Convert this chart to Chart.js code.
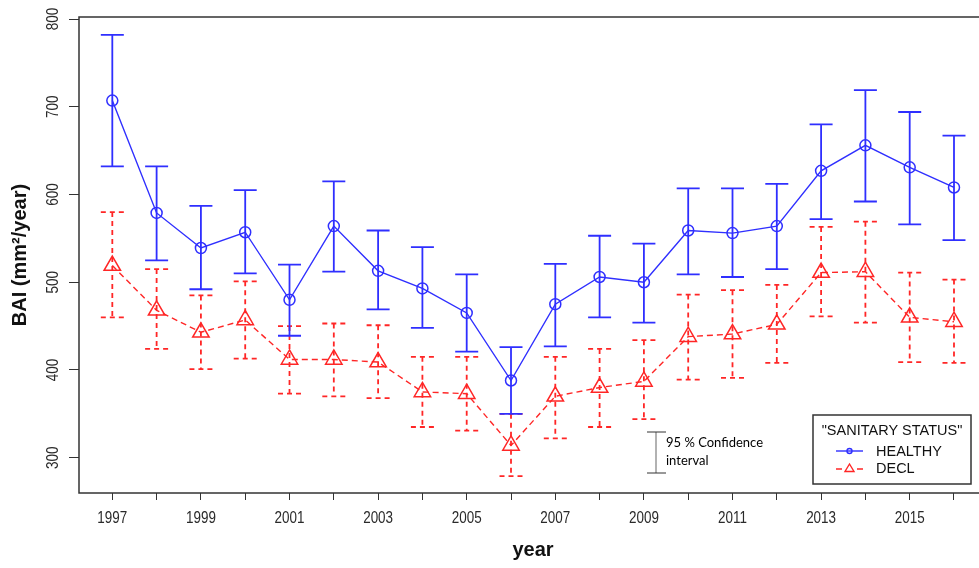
<!DOCTYPE html>
<html>
<head>
<meta charset="utf-8">
<script src="https://cdn.jsdelivr.net/npm/chart.js@4"></script>
<style>
  html, body { margin: 0; padding: 0; background: #fff; overflow: hidden; }
  #wrap { width: 1000px; height: 568px; }
</style>
</head>
<body>
<div id="wrap"><canvas id="bai" width="1000" height="568"></canvas></div>
<script>
const years = [1997, 1998, 1999, 2000, 2001, 2002, 2003, 2004, 2005, 2006,
               2007, 2008, 2009, 2010, 2011, 2012, 2013, 2014, 2015, 2016];

const healthy     = [707, 579, 539, 557, 480, 564, 513, 493, 465, 388, 475, 506, 500, 559, 556, 564, 627, 656, 631, 608];
const healthyHigh = [782, 632, 587, 605, 520, 615, 559, 540, 509, 426, 521, 553, 544, 607, 607, 612, 680, 719, 694, 667];
const healthyLow  = [632, 525, 492, 510, 439, 512, 469, 448, 421, 350, 427, 460, 454, 509, 506, 515, 572, 592, 566, 548];

const decl     = [519, 468, 443, 457, 412, 412, 409, 375, 373, 314, 370, 380, 387, 438, 441, 452, 511, 512, 460, 455];
const declHigh = [580, 515, 485, 501, 450, 453, 451, 415, 415, 350, 415, 424, 434, 486, 491, 497, 563, 569, 511, 503];
const declLow  = [460, 424, 401, 413, 373, 370, 368, 335, 331, 279, 322, 335, 344, 389, 391, 408, 461, 454, 409, 408];

const yTicks = [300, 400, 500, 600, 700, 800];
const xLabels = years.filter(v => v % 2 === 1);

const BLUE = '#2f2fff';
const RED = '#ff2626';
const mainFont = "'Liberation Sans', Arial, sans-serif";

// whiskers with caps, drawn under the lines and markers
function whisker(ctx, x, yHi, yLo, color, dash) {
  ctx.save();
  ctx.strokeStyle = color;
  ctx.lineWidth = 1.8;
  ctx.setLineDash(dash);
  ctx.beginPath();
  ctx.moveTo(x, yHi); ctx.lineTo(x, yLo);
  ctx.moveTo(x - 11.5, yHi); ctx.lineTo(x + 11.5, yHi);
  ctx.moveTo(x - 11.5, yLo); ctx.lineTo(x + 11.5, yLo);
  ctx.stroke();
  ctx.restore();
}

// narrow tick text (R device look): squeeze along the text direction
function squeezedText(ctx, txt, x, y, angle) {
  ctx.save();
  ctx.translate(x, y);
  ctx.rotate(angle);
  ctx.scale(0.84, 1);
  ctx.fillText(txt, 0, 0);
  ctx.restore();
}

const decorations = {
  id: 'decorations',
  beforeDatasetsDraw(chart) {
    const {ctx, scales: {x, y}} = chart;
    years.forEach((yr, i) => {
      const px = x.getPixelForValue(yr);
      whisker(ctx, px, y.getPixelForValue(declHigh[i]), y.getPixelForValue(declLow[i]), RED, [5, 4]);
    });
    years.forEach((yr, i) => {
      const px = x.getPixelForValue(yr);
      whisker(ctx, px, y.getPixelForValue(healthyHigh[i]), y.getPixelForValue(healthyLow[i]), BLUE, []);
    });
  },
  afterDraw(chart) {
    const {ctx, chartArea: a, scales: {x, y}} = chart;
    ctx.save();

    // plot box
    ctx.strokeStyle = '#333';
    ctx.lineWidth = 1.5;
    ctx.strokeRect(a.left, a.top, a.right - a.left, a.bottom - a.top);

    // tick labels
    ctx.fillStyle = '#2a2a2a';
    ctx.font = '16px ' + mainFont;
    ctx.textAlign = 'center';
    ctx.textBaseline = 'middle';
    yTicks.forEach(v => squeezedText(ctx, String(v), 54, y.getPixelForValue(v), -Math.PI / 2));
    xLabels.forEach(v => squeezedText(ctx, String(v), x.getPixelForValue(v), 519, 0));

    // confidence interval key
    ctx.strokeStyle = '#999';
    ctx.lineWidth = 1.5;
    ctx.beginPath();
    ctx.moveTo(656, 432); ctx.lineTo(656, 473);
    ctx.stroke();
    ctx.strokeStyle = '#333';
    ctx.lineWidth = 1;
    ctx.beginPath();
    ctx.moveTo(647, 432); ctx.lineTo(666, 432);
    ctx.moveTo(647, 473); ctx.lineTo(666, 473);
    ctx.stroke();
    ctx.fillStyle = '#000';
    ctx.font = '13px Lato, sans-serif';
    ctx.textAlign = 'left';
    ctx.fillText('95 % Confidence', 666, 443);
    ctx.fillText('interval', 666, 461);

    // legend
    ctx.fillStyle = '#fff';
    ctx.fillRect(813, 415, 158, 69);
    ctx.strokeStyle = '#333';
    ctx.lineWidth = 1.5;
    ctx.strokeRect(813, 415, 158, 69);
    ctx.fillStyle = '#111';
    ctx.font = '14.5px ' + mainFont;
    ctx.textAlign = 'center';
    ctx.fillText('"SANITARY STATUS"', 892, 431);
    ctx.textAlign = 'left';
    ctx.fillText('HEALTHY', 876, 452);
    ctx.fillText('DECL', 876, 469);

    ctx.lineWidth = 1.4;
    ctx.strokeStyle = BLUE;
    ctx.beginPath();
    ctx.moveTo(836, 451); ctx.lineTo(863, 451);
    ctx.stroke();
    ctx.beginPath();
    ctx.arc(849.5, 451, 2.5, 0, Math.PI * 2);
    ctx.stroke();

    ctx.strokeStyle = RED;
    ctx.beginPath();
    ctx.moveTo(836, 469); ctx.lineTo(842, 469);
    ctx.moveTo(857, 469); ctx.lineTo(863, 469);
    ctx.stroke();
    ctx.beginPath();
    ctx.moveTo(849.5, 464); ctx.lineTo(854, 471.5); ctx.lineTo(845, 471.5);
    ctx.closePath();
    ctx.stroke();

    ctx.restore();
  }
};

new Chart(document.getElementById('bai'), {
  type: 'line',
  data: {
    datasets: [
      {
        label: 'HEALTHY',
        data: years.map((yr, i) => ({x: yr, y: healthy[i]})),
        borderColor: BLUE,
        borderWidth: 1.4,
        pointStyle: 'circle',
        pointRadius: 5.5,
        pointBorderWidth: 1.5,
        pointBorderColor: BLUE,
        pointBackgroundColor: 'rgba(0,0,0,0)',
        tension: 0
      },
      {
        label: 'DECL',
        data: years.map((yr, i) => ({x: yr, y: decl[i]})),
        borderColor: RED,
        borderWidth: 1.4,
        borderDash: [6, 4],
        pointStyle: 'triangle',
        pointRadius: 9.5,
        pointBorderWidth: 1.5,
        pointBorderColor: RED,
        pointBackgroundColor: 'rgba(0,0,0,0)',
        tension: 0
      }
    ]
  },
  options: {
    responsive: false,
    animation: false,
    layout: { padding: { top: 17, right: 13, left: 0, bottom: 0 } },
    plugins: {
      legend: { display: false },
      tooltip: { enabled: false }
    },
    scales: {
      x: {
        type: 'linear',
        min: 1996.248,
        max: 2016.745,
        afterBuildTicks: s => { s.ticks = years.map(v => ({value: v})); },
        afterFit: s => { s.height = 75; },
        ticks: { autoSkip: false, maxRotation: 0, callback: () => '' },
        grid: { drawOnChartArea: false, drawTicks: true, tickLength: 7, color: '#333' },
        border: { display: false },
        title: {
          display: true,
          text: 'year',
          color: '#111',
          font: { family: mainFont, size: 20, weight: 'bold' },
          padding: { top: 0, bottom: 6 }
        }
      },
      y: {
        type: 'linear',
        min: 259.8,
        max: 802.3,
        afterBuildTicks: s => { s.ticks = yTicks.map(v => ({value: v})); },
        afterFit: s => { s.width = 79; },
        ticks: { display: false },
        grid: { drawOnChartArea: false, drawTicks: true, tickLength: 10, color: '#333' },
        border: { display: false },
        title: {
          display: true,
          text: 'BAI (mm²/year)',
          color: '#111',
          font: { family: mainFont, size: 20, weight: 'bold' },
          padding: { top: 8, bottom: 0 }
        }
      }
    }
  },
  plugins: [decorations]
});
</script>
</body>
</html>
